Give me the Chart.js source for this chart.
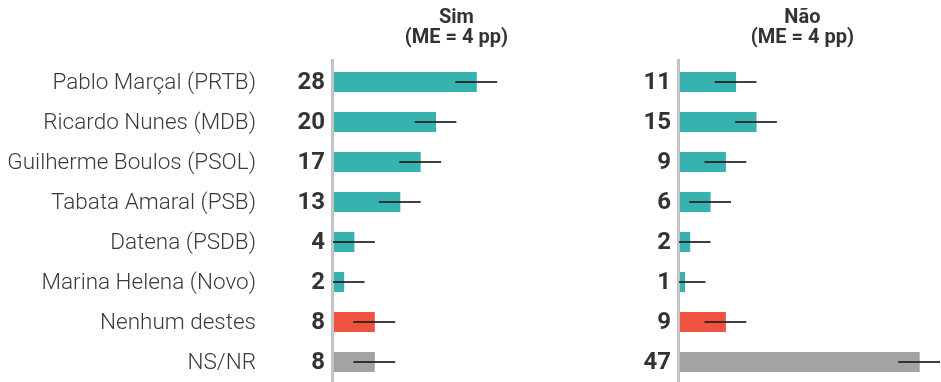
<!DOCTYPE html>
<html>
<head>
<meta charset="utf-8">
<script src="https://cdn.jsdelivr.net/npm/chart.js@4"></script>
<style>
  body { margin: 0; background: #fff; }
  #wrap { position: relative; width: 941px; height: 382px; }
  .panel { position: absolute; top: 0; }
</style>
</head>
<body>
<div id="wrap">
  <div class="panel" style="left:0"><canvas id="simChart" width="600" height="382"></canvas></div>
  <div class="panel" style="left:600px"><canvas id="naoChart" width="341" height="382"></canvas></div>
</div>
<script>
const categories = ['Pablo Marçal (PRTB)', 'Ricardo Nunes (MDB)', 'Guilherme Boulos (PSOL)', 'Tabata Amaral (PSB)',
    'Datena (PSDB)', 'Marina Helena (Novo)', 'Nenhum destes', 'NS/NR'];
const simValues = [28, 20, 17, 13, 4, 2, 8, 8];
const naoValues = [11, 15, 9, 6, 2, 1, 9, 47];
const simTitle = ['Sim', '(ME = 4 pp)'];
const naoTitle = ['Não', '(ME = 4 pp)'];
const marginOfError = 4;

const TEAL = '#36b2b0';
const RED = '#ef5340';
const GRAY = '#a3a3a3';
const TEXT = '#333333';
const barColors = categories.map((c, i) => i === 6 ? RED : (i === 7 ? GRAY : TEAL));

const PX_PER_UNIT = 5.1;

// draws error bars, value labels, axis line, panel title and (optionally) category labels
const decorPlugin = {
    id: 'decor',
    afterDatasetsDraw(chart, args, opts) {
        const ctx = chart.ctx;
        const xs = chart.scales.x;
        const ys = chart.scales.y;
        const area = chart.chartArea;
        const values = chart.data.datasets[0].data;

        ctx.save();
        // axis line
        ctx.strokeStyle = '#c4c4c4';
        ctx.lineWidth = 3;
        ctx.beginPath();
        ctx.moveTo(area.left - 1.5, area.top - 3);
        ctx.lineTo(area.left - 1.5, area.bottom);
        ctx.stroke();

        // error bars
        ctx.strokeStyle = 'rgba(30,30,30,0.85)';
        ctx.lineWidth = 2;
        values.forEach((v, i) => {
            const y = ys.getPixelForValue(i);
            const x0 = xs.getPixelForValue(Math.max(v - marginOfError, 0)) - 1;
            const x1 = xs.getPixelForValue(v + marginOfError);
            ctx.beginPath();
            ctx.moveTo(x0, y);
            ctx.lineTo(x1, y);
            ctx.stroke();
        });

        // value labels
        ctx.fillStyle = TEXT;
        ctx.font = 'bold 24px Roboto';
        ctx.textAlign = 'right';
        ctx.textBaseline = 'middle';
        values.forEach((v, i) => {
            ctx.fillText(String(v), area.left - 9, ys.getPixelForValue(i) + 1);
        });

        // category labels
        if (opts.showLabels) {
            ctx.font = '300 22.5px Roboto';
            ctx.fillStyle = '#3a3a3a';
            chart.data.labels.forEach((lab, i) => {
                ctx.fillText(lab, 256, ys.getPixelForValue(i) + 1);
            });
        }

        // title
        ctx.font = 'bold 20px Roboto';
        ctx.fillStyle = TEXT;
        ctx.textAlign = 'center';
        ctx.textBaseline = 'alphabetic';
        const tx = xs.getPixelForValue(24);
        ctx.fillText(opts.title[0], tx, 23);
        ctx.fillText(opts.title[1], tx, 43);
        ctx.restore();
    }
};

function makePanel(canvasId, values, title, leftPad, showLabels) {
    const canvas = document.getElementById(canvasId);
    const xMax = (canvas.width - leftPad) / PX_PER_UNIT;
    return new Chart(canvas, {
        type: 'bar',
        data: {
            labels: categories,
            datasets: [{
                data: values,
                backgroundColor: barColors,
                barPercentage: 0.5,
                categoryPercentage: 1
            }]
        },
        options: {
            indexAxis: 'y',
            responsive: false,
            animation: false,
            devicePixelRatio: 1,
            layout: { padding: { left: leftPad, right: 0, top: 62, bottom: 0 } },
            scales: {
                x: { display: false, min: 0, max: xMax },
                y: { display: false }
            },
            plugins: {
                legend: { display: false },
                tooltip: { enabled: false },
                decor: { title: title, showLabels: showLabels }
            }
        },
        plugins: [decorPlugin]
    });
}

makePanel('simChart', simValues, simTitle, 334, true);
makePanel('naoChart', naoValues, naoTitle, 80, false);
</script>
</body>
</html>
